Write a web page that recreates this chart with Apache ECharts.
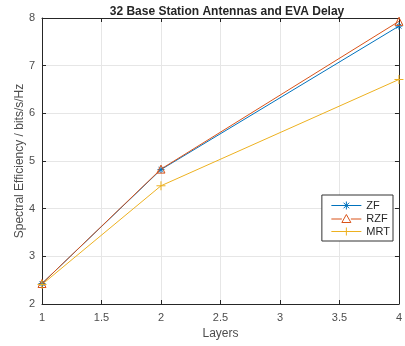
<!DOCTYPE html>
<html><head><meta charset="utf-8">
<script src="https://cdn.jsdelivr.net/npm/echarts@6/dist/echarts.min.js"></script>
<style>html,body{margin:0;padding:0;background:#fff}#c{width:405px;height:346px}</style>
</head><body><div id="c"></div>
<script>
const layers = [1, 2, 4];
const zf = [2.43, 4.82, 7.83];
const rzf = [2.43, 4.83, 7.93];
const mrt = [2.41, 4.48, 6.71];
const seriesNames = ['ZF', 'RZF', 'MRT'];
const xTicks = [1, 1.5, 2, 2.5, 3, 3.5, 4];
const yTicks = [2, 3, 4, 5, 6, 7, 8];

const colors = ['#0072BD', '#D95319', '#EDB120'];
const asterisk = 'path://M0,-10L0,10M-10,0L10,0M-7,-7L7,7M-7,7L7,-7';
const plus = 'path://M0,-10L0,10M-10,0L10,0';
// legend icons: line with marker, box 30 x 8
const legAst = 'path://M0,4L30,4M15,0L15,8M11,4L19,4M12.2,1.2L17.8,6.8M12.2,6.8L17.8,1.2';
const legTri = 'path://M0,4.5L10.5,4.5M19.5,4.5L30,4.5M15,0L19.5,8L10.5,8Z';
const legPlus = 'path://M0,4L30,4M15,0L15,8';
const legIcons = [legAst, legTri, legPlus];
const pairs = arr => layers.map((x, i) => [x, arr[i]]);

const txt = '#4d4d4d';
const font = 'Liberation Sans, Arial, Helvetica, sans-serif';
function mk(name, data, color, symbol, size) {
  return {
    name, type: 'line', data: pairs(data), symbol, symbolSize: size,
    lineStyle: { color, width: 1 },
    itemStyle: { color: 'rgba(255,255,255,0)', borderColor: color, borderWidth: 1 },
    emphasis: { disabled: true }, animation: false
  };
}
const chart = echarts.init(document.getElementById('c'));
chart.setOption({
  animation: false,
  textStyle: { fontFamily: font },
  title: {
    text: '32 Base Station Antennas and EVA Delay', left: 222, top: 1, textAlign: 'center',
    textStyle: { fontSize: 12, fontWeight: 'bold', color: '#262626', fontFamily: font }
  },
  grid: { left: 42, right: 2, top: 18, bottom: 42, containLabel: false },
  legend: {
    orient: 'vertical', right: 12, top: 195,
    data: seriesNames.map((n, i) => ({
      name: n, icon: legIcons[i],
      itemStyle: { color: 'none', borderColor: colors[i], borderWidth: 1 },
      lineStyle: { color: colors[i], width: 1 }
    })),
    itemWidth: 30, itemHeight: 8, itemGap: 0,
    padding: [4, 3, 3, 7],
    borderColor: '#333', borderWidth: 1, backgroundColor: '#fff',
    selectedMode: false,
    textStyle: { fontSize: 11, color: '#262626', fontFamily: font }
  },
  xAxis: [{
    type: 'value', min: 1, max: 4, interval: 0.5,
    name: 'Layers', nameLocation: 'middle', nameGap: 23,
    nameTextStyle: { fontSize: 12, color: txt },
    axisLine: { lineStyle: { color: '#262626' } },
    axisTick: { inside: true, length: 4, lineStyle: { color: '#262626' } },
    axisLabel: { fontSize: 11, color: txt, margin: 8, formatter: v => xTicks.includes(v) ? String(v) : '' },
    splitLine: { show: true, lineStyle: { color: '#e6e6e6' } }
  }, {
    type: 'value', min: 1, max: 4, interval: 0.5, position: 'top',
    axisLine: { show: true, lineStyle: { color: '#262626' } },
    axisTick: { show: true, inside: true, length: 4, lineStyle: { color: '#262626' } },
    axisLabel: { show: false }, splitLine: { show: false }
  }],
  yAxis: [{
    type: 'value', min: 2, max: 8, interval: 1,
    name: 'Spectral Efficiency / bits/s/Hz', nameLocation: 'middle', nameGap: 16,
    nameMoveOverlap: false,
    nameTextStyle: { fontSize: 12, color: txt },
    axisLine: { show: true, lineStyle: { color: '#262626' } },
    axisTick: { show: true, inside: true, length: 4, lineStyle: { color: '#262626' } },
    axisLabel: { fontSize: 11, color: txt, margin: 7, formatter: v => yTicks.includes(v) ? String(v) : '' },
    splitLine: { show: true, lineStyle: { color: '#e6e6e6' } }
  }, {
    type: 'value', min: 2, max: 8, interval: 1, position: 'right',
    axisLine: { show: true, lineStyle: { color: '#262626' } },
    axisTick: { show: true, inside: true, length: 4, lineStyle: { color: '#262626' } },
    axisLabel: { show: false }, splitLine: { show: false }
  }],
  series: [
    mk(seriesNames[0], zf, colors[0], asterisk, 7),
    mk(seriesNames[1], rzf, colors[1], 'triangle', 8),
    mk(seriesNames[2], mrt, colors[2], plus, 9)
  ]
});
</script></body></html>
